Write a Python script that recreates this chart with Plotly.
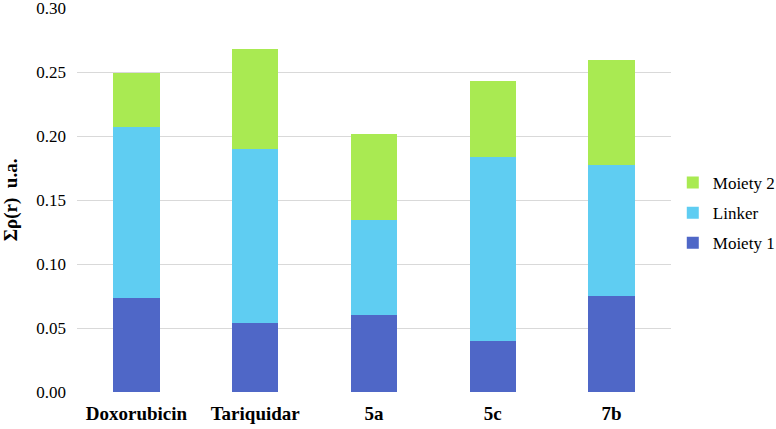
import plotly.graph_objects as go

# compounds and charge density contributions
compounds = ["Doxorubicin", "Tariquidar", "5a", "5c", "7b"]
moiety_1 = [0.0735, 0.0540, 0.0600, 0.0402, 0.0748]
linker = [0.1337, 0.1358, 0.0742, 0.1433, 0.1024]
moiety_2 = [0.0422, 0.0781, 0.0678, 0.0594, 0.0821]

y_ticks = [0.00, 0.05, 0.10, 0.15, 0.20, 0.25, 0.30]

series = [
    ("Moiety 1", moiety_1, "#4F67C7", 3),
    ("Linker", linker, "#5FCDF2", 2),
    ("Moiety 2", moiety_2, "#A9EA52", 1),
]

serif = "'Liberation Serif', 'Times New Roman', Times, 'DejaVu Serif', serif"

fig = go.Figure()
for name, vals, color, rank in series:
    fig.add_trace(go.Bar(
        x=compounds, y=vals, name=name, legendgroup=name, legendrank=rank,
        marker=dict(color=color, line=dict(width=0)),
    ))

fig.update_layout(
    width=776, height=429,
    barmode="stack", bargap=0.61,
    plot_bgcolor="white", paper_bgcolor="white",
    margin=dict(l=77, r=105, t=8, b=37, autoexpand=False),
    font=dict(family=serif, size=17, color="#000000"),
    legend=dict(
        x=1.003, xanchor="left", y=0.466, yanchor="middle",
        traceorder="grouped", tracegroupgap=5,
        font=dict(size=17, family=serif),
    ),
)

fig.update_xaxes(
    showline=False, showgrid=False, zeroline=False,
    tickfont=dict(size=19, family=serif),
    ticklabelstandoff=8,
)
fig.update_xaxes(tickprefix="<b>", ticksuffix="</b>")

fig.update_yaxes(
    range=[0, 0.3002], tickvals=y_ticks, tickformat=".2f",
    tickfont=dict(size=17, family=serif),
    ticklabeloverflow="allow",
    showgrid=True, gridcolor="#D9D9D9", gridwidth=1,
    zeroline=False, showline=False,
    ticklabelstandoff=10,
    title=dict(text="<b>Σρ(r)  u.a.</b>", font=dict(size=19, family=serif), standoff=18),
)

# drop the browser's default page margin so the figure sits at the corner
fig.write_html("out.html", config={"displayModeBar": False},
               post_script="document.body.style.margin='0';")
